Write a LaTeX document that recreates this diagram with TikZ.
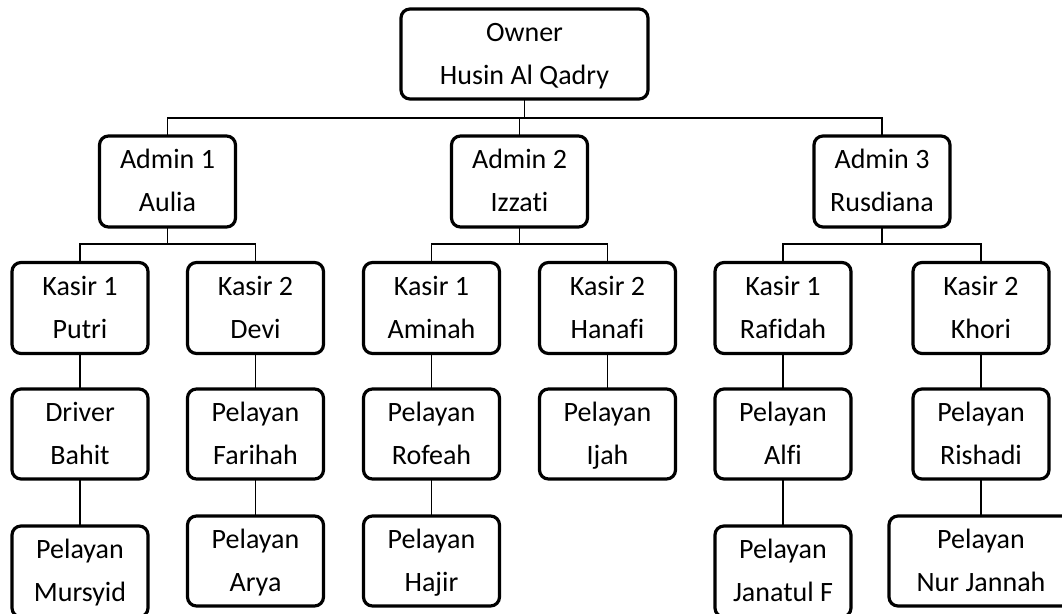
\documentclass[tikz,border=0pt]{standalone}
\usepackage{fontspec}
\setmainfont{Carlito}[Ligatures=NoCommon]
\usepackage{tikz}

\begin{document}
\begin{tikzpicture}[x=1pt,y=-1pt,
  box/.style={draw,line width=3.2pt,rounded corners=9pt,align=center,inner sep=0pt,outer sep=0pt,
    minimum width=136pt,minimum height=91pt,font=\fontsize{28}{43}\selectfont},
  line/.style={line width=1.8pt}]
\fill[white] (0,0) rectangle (1062,613);
\useasboundingbox (0,0) rectangle (1062,613);

\node[box,minimum width=247pt,minimum height=90pt] (ownr) at (524.5,54) {\strut Owner\\\strut Husin Al Qadry};

\node[box] (adm1) at (167.5,181.5) {\strut Admin 1\\\strut Aulia};
\node[box] (adm2) at (519.5,181.5) {\strut Admin 2\\\strut Izzati};
\node[box] (adm3) at (882,181.5) {\strut Admin 3\\\strut Rusdiana};

\node[box] (k1a) at (80,308) {\strut Kasir 1\\\strut Putri};
\node[box] (k1b) at (255.5,308) {\strut Kasir 2\\\strut Devi};
\node[box] (k2a) at (431.5,308) {\strut Kasir 1\\\strut Aminah};
\node[box] (k2b) at (607.5,308) {\strut Kasir 2\\\strut Hanafi};
\node[box] (k3a) at (783,308) {\strut Kasir 1\\\strut Rafidah};
\node[box] (k3b) at (981,308) {\strut Kasir 2\\\strut Khori};

\node[box,minimum height=90pt] (p1a) at (80,434) {\strut Driver\\\strut Bahit};
\node[box,minimum height=90pt] (p1b) at (255.5,434) {\strut Pelayan\\\strut Farihah};
\node[box,minimum height=90pt] (p2a) at (431.5,434) {\strut Pelayan\\\strut Rofeah};
\node[box,minimum height=90pt] (p2b) at (607.5,434) {\strut Pelayan\\\strut Ijah};
\node[box,minimum height=90pt] (p3a) at (783,434) {\strut Pelayan\\\strut Alfi};
\node[box,minimum height=90pt] (p3b) at (981,434) {\strut Pelayan\\\strut Rishadi};

\node[box] (q1a) at (80,571.5) {\strut Pelayan\\\strut Mursyid};
\node[box,minimum height=90pt] (q1b) at (255.5,561) {\strut Pelayan\\\strut Arya};
\node[box,minimum height=90pt] (q2a) at (431.5,561) {\strut Pelayan\\\strut Hajir};
\node[box] (q3a) at (783,571.5) {\strut Pelayan\\\strut Janatul F};
\node[box,minimum width=184pt,minimum height=90pt] (q3b) at (981,561) {\strut Pelayan\\\strut Nur Jannah};

% owner to admins
\draw[line] (adm1.north) -- ++(0,-18) coordinate (b0) -| (adm3.north);
\draw[line] (ownr.south) -- (ownr.south |- b0);
\draw[line] (adm2.north) -- (adm2.north |- b0);

% admins to kasir
\draw[line] (k1a.north) -- ++(0,-18.5) coordinate (b1) -| (k1b.north);
\draw[line] (adm1.south) -- (adm1.south |- b1);
\draw[line] (k2a.north) -- ++(0,-18.5) coordinate (b2) -| (k2b.north);
\draw[line] (adm2.south) -- (adm2.south |- b2);
\draw[line] (k3a.north) -- ++(0,-18.5) coordinate (b3) -| (k3b.north);
\draw[line] (adm3.south) -- (adm3.south |- b3);

% kasir to staff
\draw[line] (k1a) -- (p1a) -- (q1a);
\draw[line] (k1b) -- (p1b) -- (q1b);
\draw[line] (k2a) -- (p2a) -- (q2a);
\draw[line] (k2b) -- (p2b);
\draw[line] (k3a) -- (p3a) -- (q3a);
\draw[line] (k3b) -- (p3b) -- (q3b);
\end{tikzpicture}
\end{document}
